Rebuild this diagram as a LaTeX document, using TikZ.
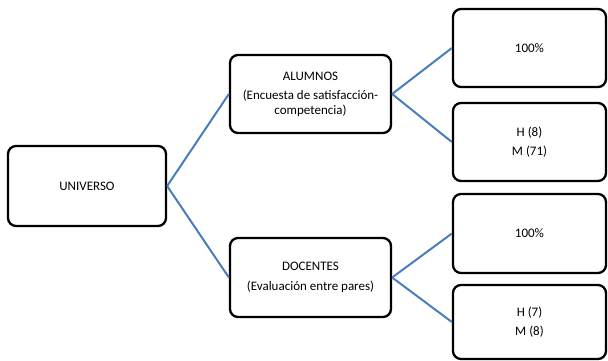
\documentclass[tikz,border=0pt]{standalone}
\usepackage{fontspec}
\setmainfont{Carlito}
\definecolor{connblue}{RGB}{74,126,187}
\tikzset{
  box/.style={draw=black, line width=2.3pt, rounded corners=8pt, fill=white,
    align=center, inner sep=2pt, font=\fontsize{13}{19}\selectfont},
  conn/.style={draw=connblue, line width=2pt}
}
\begin{document}
\begin{tikzpicture}[x=1pt,y=-1pt]
\useasboundingbox (0,0) rectangle (608,360);
\node[box, minimum width=158pt, minimum height=80pt] (univ) at (87,186) {UNIVERSO};
\node[box, minimum width=161pt, minimum height=78pt] (alum) at (310.5,94) {ALUMNOS\\[0pt](Encuesta de satisfacción-\\[-4pt]competencia)};
\node[box, minimum width=161pt, minimum height=79pt] (doc) at (310.5,277.5) {DOCENTES\\[1pt](Evaluación entre pares)};
\node[box, minimum width=153pt, minimum height=78pt] (a1) at (529.5,48) {100\%};
\node[box, minimum width=153pt, minimum height=78pt] (a2) at (529.5,142) {H (8)\\M (71)};
\node[box, minimum width=153pt, minimum height=79pt] (d1) at (529.5,233.5) {100\%};
\node[box, minimum width=153pt, minimum height=74pt] (d2) at (529.5,322) {H (7)\\M (8)};
\draw[conn] (univ.east) -- (alum.west);
\draw[conn] (univ.east) -- (doc.west);
\draw[conn] (alum.east) -- (a1.west);
\draw[conn] (alum.east) -- (a2.west);
\draw[conn] (doc.east) -- (d1.west);
\draw[conn] (doc.east) -- (d2.west);
\end{tikzpicture}
\end{document}
